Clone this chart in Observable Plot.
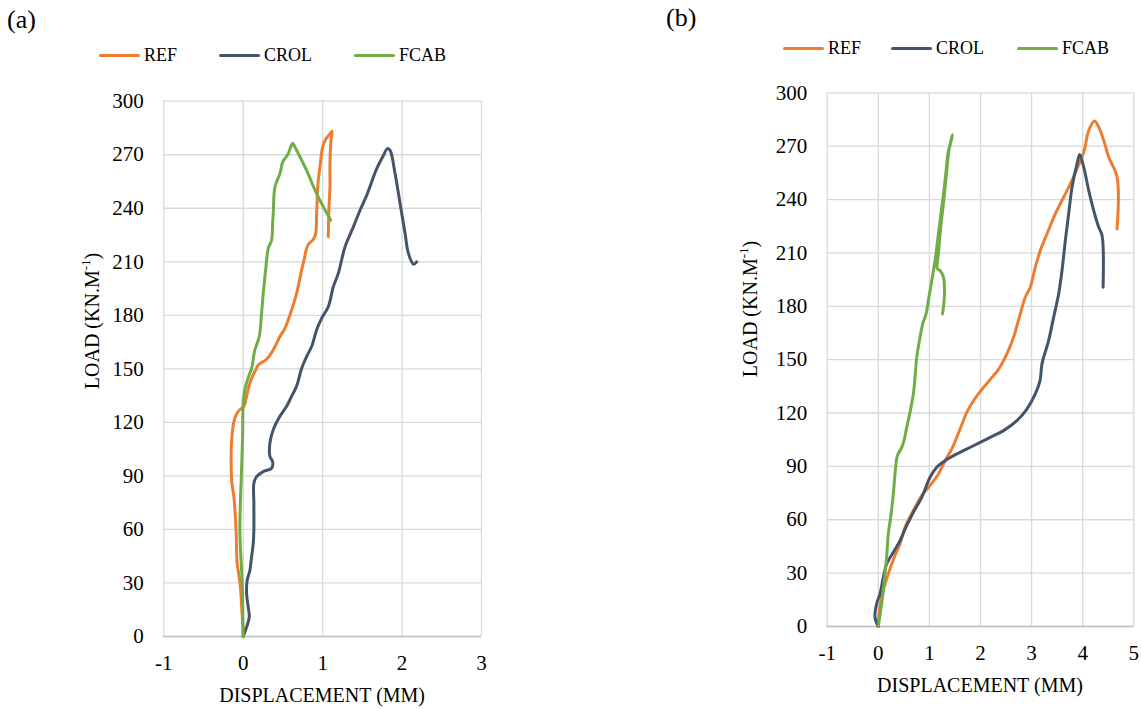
<!DOCTYPE html>
<html>
<head>
<meta charset="utf-8">
<script src="https://cdn.jsdelivr.net/npm/d3@7"></script>
<script src="https://cdn.jsdelivr.net/npm/@observablehq/plot@0.6"></script>
<style>
  html, body { margin: 0; padding: 0; background: #fff; }
  #root { position: relative; width: 1141px; height: 709px; font-family: "Liberation Serif", "Times New Roman", serif; color: #000; overflow: hidden; }
  #root svg, #root svg text, #root svg tspan { font-family: "Liberation Serif", "Times New Roman", serif !important; }
  .tag { position: absolute; font-size: 26px; line-height: 1; }
  .leg { position: absolute; display: flex; align-items: center; font-size: 18px; line-height: 1; }
  .leg span.sw { display: inline-block; width: 41px; height: 3px; border-radius: 2px; margin-right: 4px; }
</style>
</head>
<body>
<div id="root"></div>
<script>
// ---------- data ----------
const seriesNames = ["REF", "CROL", "FCAB"];
const seriesColors = ["#ED7D31", "#44546A", "#70AD47"];

const xTicksA = [-1, 0, 1, 2, 3];
const xTicksB = [-1, 0, 1, 2, 3, 4, 5];
const yTicks = [0, 30, 60, 90, 120, 150, 180, 210, 240, 270, 300];

// panel (a): [displacement (mm), load (kN/m)]
const refA = [
  [0, 0], [-0.04, 29.6], [-0.076, 40.9], [-0.084, 48.4], [-0.09, 59.6], [-0.118, 78.4],
  [-0.143, 85.9], [-0.151, 93.4], [-0.151, 104.6], [-0.134, 115.9], [-0.105, 122.4],
  [-0.063, 126.2], [0.008, 129], [0.042, 134.6], [0.084, 142.1], [0.126, 146.8],
  [0.16, 149.6], [0.189, 152.2], [0.294, 155.4], [0.378, 160.6], [0.462, 168.1],
  [0.525, 172.7], [0.588, 180.2], [0.672, 192.3], [0.735, 205.3], [0.765, 210.9],
  [0.798, 217.5], [0.819, 219.7], [0.882, 222.5], [0.912, 225.8], [0.924, 237.0],
  [0.945, 255.7], [0.966, 263.1], [1.0, 274.3], [1.042, 278.9], [1.092, 281.7],
  [1.118, 283.2], [1.105, 278.0], [1.092, 265.0], [1.092, 251.9], [1.08, 240.7], [1.071, 224.0]
];
const crolA = [
  [0, 0], [0.042, 5.3], [0.076, 10.9], [0.063, 16.5], [0.042, 24], [0.05, 31.5],
  [0.084, 37.1], [0.105, 44.6], [0.126, 52.1], [0.134, 59.6], [0.134, 74.6], [0.134, 85.9],
  [0.168, 89.6], [0.252, 92.4], [0.357, 94.3], [0.37, 98.1], [0.336, 100.9], [0.336, 108.4],
  [0.378, 115.9], [0.462, 123.4], [0.546, 129], [0.609, 134.6], [0.672, 140.3], [0.735, 150.2],
  [0.798, 156.9], [0.861, 162.5], [0.924, 171.8], [0.987, 178.3], [1.071, 184.8],
  [1.134, 196.0], [1.197, 203.5], [1.282, 218.4], [1.387, 229.6], [1.471, 238.9],
  [1.555, 247.3], [1.681, 262.2], [1.765, 269.6], [1.815, 273.4], [1.849, 272.4],
  [1.912, 259.4], [1.975, 242.6], [2.038, 225.8], [2.08, 214.7], [2.143, 208.7], [2.185, 210]
];
const fcabA = [
  [0, 0], [-0.013, 29.6], [-0.042, 59.6], [-0.021, 93.4], [-0.008, 112.1], [0, 130.9],
  [0.021, 138.4], [0.042, 142.1], [0.076, 146.8], [0.105, 150.2], [0.147, 160.6],
  [0.202, 168.1], [0.231, 181.1], [0.252, 192.3], [0.282, 205.3], [0.315, 217.5],
  [0.357, 222.1], [0.37, 231.4], [0.378, 237.0], [0.399, 251.9], [0.462, 259.4],
  [0.496, 265.9], [0.525, 267.8], [0.567, 270.6], [0.597, 274.3], [0.622, 276.5],
  [0.651, 274.3], [0.798, 261.2], [0.924, 248.2], [1.10, 233.3]
];

// panel (b)
const refB = [
  [0, 0], [0.02, 9], [0.098, 20.2], [0.196, 29.6], [0.327, 39.9], [0.425, 46.4],
  [0.523, 55.8], [0.686, 65.1], [0.85, 73.6], [1.013, 79.2], [1.176, 85.7], [1.307, 93.2],
  [1.438, 99.8], [1.601, 111], [1.732, 120.4], [1.863, 126.9], [2.059, 134.4], [2.255, 141],
  [2.353, 144.5], [2.516, 153.2], [2.647, 162.6], [2.778, 175.7], [2.876, 185.1],
  [2.974, 190.7], [3.072, 201.9], [3.17, 211.3], [3.301, 220.7], [3.464, 231.9],
  [3.627, 241.3], [3.758, 248.8], [3.889, 257.3], [4.02, 266.6], [4.118, 278.8],
  [4.229, 284.1], [4.314, 280.7], [4.412, 273.2], [4.51, 263.8], [4.673, 252.6], [4.673, 223.5]
];
const crolB = [
  [0, 0], [-0.065, 5.2], [-0.033, 12.7], [0.033, 18.3], [0.098, 27.7], [0.163, 35.2],
  [0.294, 41.7], [0.425, 48.3], [0.556, 56.7], [0.686, 64.2], [0.85, 72.6], [1.013, 83.9],
  [1.144, 89.5], [1.307, 93.2], [1.536, 97], [1.863, 101.6], [2.19, 106.3], [2.451, 110.1],
  [2.712, 115.7], [2.908, 122.2], [3.072, 130.7], [3.165, 138.2], [3.203, 147.6],
  [3.333, 160.7], [3.431, 173.8], [3.529, 186.9], [3.595, 200.1], [3.66, 216.9],
  [3.725, 231.9], [3.791, 246.9], [3.889, 260.1], [3.941, 265.3], [4.02, 258.2],
  [4.118, 245.1], [4.216, 233.8], [4.314, 224.4], [4.379, 219.8], [4.399, 190.7]
];
const fcabB = [
  [0, 0], [0.065, 12.7], [0.111, 24], [0.163, 38.9], [0.196, 52], [0.242, 61.4],
  [0.294, 74.5], [0.333, 87.6], [0.373, 96], [0.458, 100.7], [0.503, 104.5], [0.556, 111.9],
  [0.621, 120.4], [0.686, 130.7], [0.719, 140], [0.752, 151.3], [0.817, 162.6],
  [0.869, 170.1], [0.935, 175.7], [0.98, 183.2], [1.046, 194.4], [1.111, 205.7],
  [1.176, 220.7], [1.242, 235.7], [1.307, 250.7], [1.353, 263.8], [1.373, 267.6],
  [1.405, 270.4], [1.451, 276.4], [1.392, 269.4], [1.34, 256.3], [1.288, 241.3],
  [1.222, 224.4], [1.176, 209.4], [1.157, 201], [1.209, 200.1], [1.275, 196.3],
  [1.294, 190.7], [1.288, 183.2], [1.255, 175.7]
];

const xLabel = "DISPLACEMENT (MM)";
const yLabelMain = "LOAD (KN.M";
const yLabelSup = "-1";
const yLabelEnd = ")";

// ---------- drawing ----------
const root = document.getElementById("root");
const SERIF = '"Liberation Serif", "Times New Roman", serif';

function toRows(arr, name) { return arr.map(([x, y], i) => ({x, y, name, i})); }

function makePanel(cfg) {
  const rows = [
    ...toRows(cfg.series[0], "REF"),
    ...toRows(cfg.series[1], "CROL"),
    ...toRows(cfg.series[2], "FCAB")
  ];
  const chart = Plot.plot({
    width: cfg.width,
    height: cfg.height,
    marginLeft: cfg.ml, marginRight: cfg.mr, marginTop: cfg.mt, marginBottom: cfg.mb,
    style: {fontFamily: SERIF, fontSize: "21px", color: "#000", background: "transparent", overflow: "visible"},
    x: {domain: [cfg.xTicks[0], cfg.xTicks[cfg.xTicks.length - 1]], ticks: cfg.xTicks, tickFormat: d => String(d), label: null},
    y: {domain: [0, 300], ticks: yTicks, label: null},
    color: {domain: seriesNames, range: seriesColors},
    marks: [
      Plot.gridX(cfg.xTicks, {stroke: "#d9d9d9", strokeOpacity: 1, strokeWidth: 1.3}),
      Plot.gridY(yTicks, {stroke: "#d9d9d9", strokeOpacity: 1, strokeWidth: 1.3}),
      Plot.ruleY([0], {stroke: "#bfbfbf", strokeWidth: 1.5}),
      Plot.axisX(cfg.xTicks, {tickSize: 0, tickPadding: 19, fontSize: 21, tickFormat: d => String(d), label: null}),
      Plot.axisY(yTicks, {tickSize: 0, tickPadding: 20, fontSize: 21, label: null}),
      Plot.line(rows, {x: "x", y: "y", z: "name", stroke: "name", strokeWidth: 3, strokeLinejoin: "round", strokeLinecap: "round", curve: "catmull-rom"})
    ]
  });
  chart.style.position = "absolute";
  chart.style.left = cfg.left + "px";
  chart.style.top = cfg.top + "px";
  root.appendChild(chart);

  const svg = d3.select(chart);
  svg.attr("font-family", SERIF);
  const fx = cfg.ml + (cfg.width - cfg.ml - cfg.mr) / 2;
  svg.append("text")
    .attr("x", fx).attr("y", cfg.xLabelY - cfg.top)
    .attr("text-anchor", "middle").attr("dominant-baseline", "central")
    .attr("font-family", SERIF)
    .attr("font-size", 20).attr("fill", "#000")
    .text(xLabel);
  const yl = svg.append("text")
    .attr("transform", `translate(${cfg.yLabelX - cfg.left},${cfg.yLabelY - cfg.top}) rotate(-90)`)
    .attr("text-anchor", "middle").attr("dominant-baseline", "central")
    .attr("font-family", SERIF)
    .attr("font-size", 20).attr("fill", "#000");
  yl.append("tspan").text(yLabelMain);
  yl.append("tspan").attr("font-size", 13).attr("dy", -7).text(yLabelSup);
  yl.append("tspan").attr("dy", 7).text(yLabelEnd);

  const tag = document.createElement("div");
  tag.className = "tag";
  tag.style.left = cfg.tagX + "px";
  tag.style.top = cfg.tagY + "px";
  tag.textContent = cfg.tag;
  root.appendChild(tag);

  seriesNames.forEach((n, k) => {
    const d = document.createElement("div");
    d.className = "leg";
    d.style.left = cfg.legX[k] + "px";
    d.style.top = (cfg.legY - 10) + "px";
    d.style.height = "20px";
    const sw = document.createElement("span");
    sw.className = "sw";
    sw.style.background = seriesColors[k];
    d.appendChild(sw);
    d.appendChild(document.createTextNode(n));
    root.appendChild(d);
  });
}

makePanel({
  series: [refA, crolA, fcabA], xTicks: xTicksA,
  left: 0, top: 0, width: 560, height: 709,
  ml: 163.3, mr: 79, mt: 100.7, mb: 73,
  xLabelY: 695, yLabelX: 92, yLabelY: 321,
  tag: "(a)", tagX: 7, tagY: 7,
  legX: [99, 219, 354], legY: 55
});

makePanel({
  series: [refB, crolB, fcabB], xTicks: xTicksB,
  left: 640, top: 0, width: 501, height: 709,
  ml: 186.7, mr: 7.7, mt: 92.3, mb: 83,
  xLabelY: 685, yLabelX: 750, yLabelY: 309,
  tag: "(b)", tagX: 666, tagY: 5,
  legX: [783, 891, 1017], legY: 48
});
</script>
</body>
</html>
